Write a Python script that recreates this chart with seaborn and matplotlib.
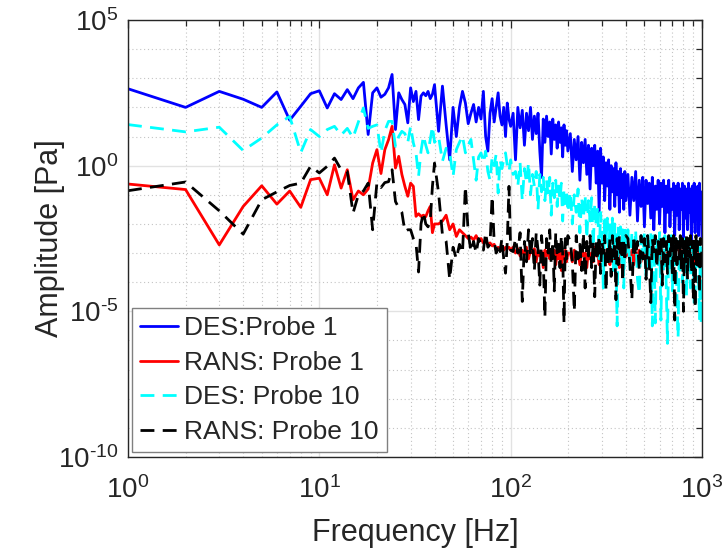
import numpy as np
import pandas as pd
import matplotlib
matplotlib.use("Agg")
import matplotlib.pyplot as plt
import seaborn as sns
from matplotlib.ticker import FixedLocator, NullFormatter, FuncFormatter

# ---- data: frequency grid [Hz] and log10 amplitudes [Pa] ----
freq_hz = (list(range(1, 41)) + list(range(42, 101, 2)) + list(range(103, 200, 3))
           + list(range(205, 401, 5)) + list(range(410, 1001, 10)))

series_labels = ["DES:Probe 1", "RANS: Probe 1", "DES: Probe 10", "RANS: Probe 10"]

des_p1_log = [
    2.64, 2.00, 2.55, 2.28, 2.00, 2.53, 1.56, 2.04, 2.47, 2.57,
    1.98, 2.47, 2.27, 2.61, 2.30, 2.67, 2.86, 1.07, 2.50, 2.67,
    2.35, 2.45, 2.67, 3.13, 1.24, 2.50, 2.27, 2.10, 1.47, 2.67,
    2.20, 2.55, 1.58, 2.39, 2.50, 2.40, 2.55, 2.30, 2.45, 2.78,
    1.18, 2.73, 1.40, 0.20, 2.00, 1.00, 2.00, 2.55, 2.15, 1.44,
    1.80, 2.10, 1.50, 2.00, 1.60, 2.55, 1.00, 0.50, 1.80, 2.30,
    1.50, 2.00, 2.50, 1.70, 1.40, 2.00, 1.00, 2.15, 1.60, 1.35,
    1.80, 0.20, 2.00, 1.30, 1.90, 0.70, 1.80, 1.20, 2.00, 0.90,
    1.70, 1.10, 1.80, 0.50, -0.40, 1.60, 0.80, 1.70, 1.00, 1.50,
    0.40, 1.60, 0.90, 1.40, 0.60, 1.50, 0.80, 1.30, 0.30, 1.40,
    0.70, 1.20, 0.50,
    1.10, -0.20, 0.90, 0.20, 1.00, -0.50, 0.80, 0.10, 0.90, -0.30,
    0.70, -0.80, 0.60, 0.00, 0.70, -0.60, 0.50, -1.60, 0.60, -0.60,
    0.30, -1.20, 0.10, -0.70, 0.20, -1.50, 0.00, -0.90, -0.10, -1.40,
    0.10, -1.00, -0.20, -1.60, -0.10, -1.10, -0.30, -1.50, -0.20, -1.20,
    -0.30, -1.70, -0.40, -1.20, -0.20, -1.90, -0.50, -1.40, -0.40, -2.10,
    -0.50, -1.30, -0.60, -1.80, -0.40, -2.20, -0.70, -1.50, -0.50, -2.00,
    -0.60, -1.40, -0.50, -2.30, -0.70, -1.60, -0.50, -2.10, -0.80, -1.50,
    -0.60, -2.40, -0.70, -1.70, -0.60, -2.20, -0.80, -1.50, -0.60, -2.50,
    -0.70, -1.80, -0.80, -2.20, -0.60, -1.60, -0.80, -2.60, -0.70, -1.90,
    -0.60, -2.30, -0.80, -1.70, -0.70, -2.40, -0.60, -1.80, -0.90, -2.60,
]

rans_p1_log = [
    -0.63, -0.82, -2.72, -1.40, -0.69, -1.32, -0.87, -1.43, -0.48, -0.43,
    -1.00, 0.03, -0.77, -0.14, -1.17, -0.87, -1.00, -0.80, 0.09, 0.55,
    -0.27, 0.55, 0.89, 1.35, -0.08, 0.32, -0.30, -0.71, -1.05, -0.60,
    -0.71, -1.74, -1.65, -1.74, -1.70, -1.75, -1.55, -1.40, -2.30, -2.00,
    -2.00, -1.90, -1.70, -2.20, -2.00, -2.43, -2.20, -2.30, -2.40, -2.50,
    -2.45, -2.55, -2.40, -2.60, -2.50, -2.65, -2.60, -2.70, -2.65, -2.75,
    -2.70, -2.89, -2.80, -2.85, -2.75, -2.90, -2.80, -2.85, -2.80, -2.90,
    -2.80, -3.00, -2.85, -3.10, -2.90, -3.05, -2.80, -3.20, -2.90, -3.00,
    -2.85, -3.30, -2.90, -3.10, -2.95, -3.50, -2.90, -3.10, -2.90, -3.20,
    -3.00, -3.10, -2.90, -3.40, -3.00, -3.20, -2.95, -3.60, -3.00, -3.20,
    -2.90, -3.30, -3.00,
    -3.00, -3.30, -2.90, -3.20, -3.00, -3.40, -2.90, -3.10, -3.00, -3.50,
    -2.90, -3.20, -3.00, -3.30, -2.80, -3.10, -3.00, -3.40, -2.90, -3.20,
    -3.00, -3.30, -2.90, -3.10, -3.00, -3.40, -2.90, -3.20, -3.00, -3.30,
    -2.90, -3.10, -3.00, -3.50, -2.90, -3.20, -3.00, -3.30, -2.90, -3.10,
    -3.00, -3.20, -2.90, -3.40, -3.00, -3.10, -2.90, -3.30, -3.00, -3.20,
    -2.90, -3.50, -3.00, -3.10, -2.90, -3.30, -3.00, -3.20, -2.90, -3.40,
    -3.00, -3.10, -2.90, -3.30, -3.00, -3.20, -2.90, -3.50, -3.00, -3.10,
    -2.90, -3.30, -3.00, -3.20, -2.90, -3.40, -3.00, -3.10, -2.90, -3.30,
    -3.00, -3.20, -2.90, -3.50, -3.00, -3.10, -2.90, -3.30, -3.00, -3.20,
    -2.90, -3.40, -3.00, -3.10, -2.90, -3.30, -3.00, -3.20, -2.90, -3.10,
]

des_p10_log = [
    1.41, 1.16, 1.32, 0.52, 0.95, 1.40, 1.69, 0.45, 1.24, 1.00,
    1.24, 1.35, 1.05, 1.28, 0.96, 1.50, 1.98, 1.28, 1.35, 1.40,
    0.44, 1.20, 1.52, 1.52, 0.66, 1.00, 1.18, 1.10, 0.80, 1.35,
    0.78, 0.44, -0.37, 0.50, 1.02, 0.70, 0.44, 0.90, 1.35, 0.80,
    1.00, 0.15, 0.60, 0.44, -0.37, 0.55, 0.80, 1.02, 0.44, 0.70,
    0.90, 0.20, -0.50, 0.30, 0.44, 0.10, 0.50, -0.20, -0.50, 0.30,
    0.00, 0.40, -0.94, 0.20, -0.10, 0.20, 0.44, 0.00, -0.20, 0.20,
    -0.30, -0.20, -0.70, 0.10, -1.20, -0.10, -0.60, 0.10, -1.00, -0.30,
    -0.70, -0.20, -1.50, -0.30, -0.90, -0.40, -1.20, -0.50, -1.00, -0.40,
    -1.70, -0.60, -1.10, -0.50, -1.40, -0.70, -1.20, -0.60, -1.90, -0.80,
    -1.30, -0.90, -1.60,
    -0.90, -2.00, -1.00, -1.60, -0.80, -2.30, -1.10, -1.80, -1.00, -2.50,
    -1.20, -1.90, -1.10, -2.80, -1.30, -2.10, -1.40, -3.20, -1.60, -2.40,
    -4.20, -1.70, -2.60, -1.80, -3.30, -1.90, -2.70, -1.80, -3.60, -2.00,
    -2.80, -5.50, -2.00, -3.00, -2.10, -3.40, -2.20, -4.20, -2.10, -3.00,
    -2.20, -3.60, -2.30, -3.10, -2.20, -3.90, -4.40, -2.40, -3.20, -2.30,
    -3.80, -2.40, -3.30, -2.30, -5.50, -2.40, -5.40, -2.50, -3.40, -2.30,
    -5.30, -2.50, -3.60, -2.40, -4.10, -6.10, -2.50, -3.50, -2.40, -4.30,
    -2.60, -3.40, -2.50, -4.60, -5.90, -2.60, -3.70, -2.50, -4.00, -2.60,
    -3.30, -2.50, -4.50, -2.70, -3.50, -2.60, -4.20, -2.70, -3.60, -2.60,
    -4.80, -4.40, -2.70, -3.40, -2.60, -4.00, -5.30, -2.80, -5.40, -3.20,
]

rans_p10_log = [
    -0.86, -0.56, -1.55, -2.35, -1.17, -0.90, -0.68, -0.60, -0.02, -0.25,
    -0.02, 0.26, -0.14, -0.20, -1.63, -1.00, -0.87, -0.60, -2.20, -0.58,
    -0.75, -0.58, -0.55, -0.14, -1.23, -1.45, -1.60, -2.26, -2.20, -2.20,
    -2.50, -2.66, -3.65, -2.00, -1.60, -2.00, -2.10, -1.90, -0.71, 0.09,
    -0.94, -2.37, -2.60, -3.90, -2.80, -3.20, -2.70, -3.00, -0.71, -2.30,
    -2.95, -2.60, -3.00, -2.50, -2.70, -2.90, -2.30, -2.80, -2.70, -1.05,
    -2.60, -3.00, -2.70, -2.95, -2.50, -3.20, -3.69, -2.60, -0.71, -2.90,
    -2.95, -2.50, -3.00, -2.30, -4.66, -2.60, -3.30, -2.20, -3.10, -2.50,
    -3.60, -2.30, -2.90, -4.10, -2.40, -3.20, -5.20, -2.50, -3.00, -2.20,
    -3.40, -2.60, -4.30, -2.30, -3.10, -2.70, -3.50, -2.40, -3.00, -5.40,
    -2.50, -3.20, -2.40,
    -2.60, -3.30, -5.00, -2.40, -3.20, -2.70, -3.60, -2.30, -4.20, -2.60,
    -3.10, -2.40, -3.50, -2.60, -4.50, -2.50, -3.20, -2.40, -3.70, -2.60,
    -3.00, -2.40, -4.30, -2.70, -3.30, -2.50, -3.80, -2.40, -3.10, -2.60,
    -4.60, -2.50, -3.40, -2.40, -3.00, -2.60, -4.00, -2.50, -3.30, -2.40,
    -2.50, -3.40, -4.60, -2.40, -3.10, -2.60, -3.60, -2.40, -3.20, -2.50,
    -3.90, -2.40, -3.30, -4.70, -2.50, -3.00, -2.40, -3.50, -2.60, -3.20,
    -2.40, -4.10, -2.50, -3.30, -2.60, -3.70, -2.40, -3.10, -2.50, -3.80,
    -2.40, -5.30, -2.50, -3.40, -2.60, -3.20, -2.40, -3.60, -2.50, -5.00,
    -2.60, -3.30, -2.40, -3.90, -2.50, -3.10, -2.40, -3.70, -2.60, -4.60,
    -2.50, -4.90, -2.40, -3.40, -2.60, -3.20, -4.40, -2.50, -3.60, -2.60,
]

series_colors = ["#0000ff", "#ff0000", "#00ffff", "#000000"]

# ---- styling ----
sns.set_theme(style="white")
plt.rcParams["font.family"] = ["Liberation Sans", "DejaVu Sans"]
plt.rcParams["mathtext.fontset"] = "custom"
plt.rcParams["mathtext.rm"] = "Liberation Sans"
plt.rcParams["mathtext.it"] = "Liberation Sans:italic"
plt.rcParams["mathtext.bf"] = "Liberation Sans:bold"
plt.rcParams["axes.unicode_minus"] = False

fig = plt.figure(figsize=(7.28, 5.6), dpi=100)
ax = fig.add_axes([0.1758, 0.1839, 0.7885, 0.7804])
ax.set_xscale("log")
ax.set_yscale("log")

all_logs = [des_p1_log, rans_p1_log, des_p10_log, rans_p10_log]
styles = ["-", "-", (0, (5, 3)), (0, (5, 3))]
for lab, logs, col, ls in zip(series_labels, all_logs, series_colors, styles):
    df = pd.DataFrame({"freq": freq_hz, "amp": 10.0 ** np.asarray(logs)})
    sns.lineplot(data=df, x="freq", y="amp", ax=ax, color=col, lw=2.0,
                 linestyle=ls, label=lab, estimator=None, sort=False)

ax.set_xlim(1, 1000)
ax.set_ylim(1e-10, 1e5)


def pow10_label(v, pos):
    e = int(round(np.log10(v)))
    if e < 0:
        return r"$\mathregular{10^{\text{-}%d}}$" % abs(e)
    return r"$\mathregular{10^{%d}}$" % e


ax.xaxis.set_major_locator(FixedLocator([1, 10, 100, 1000]))
ax.xaxis.set_minor_locator(FixedLocator([m * 10 ** d for d in range(0, 3) for m in range(2, 10)]))
ax.yaxis.set_major_locator(FixedLocator([1e-10, 1e-5, 1e0, 1e5]))
ax.yaxis.set_minor_locator(FixedLocator([10.0 ** e for e in range(-10, 6) if e % 5 != 0]))
ax.xaxis.set_major_formatter(FuncFormatter(pow10_label))
ax.yaxis.set_major_formatter(FuncFormatter(pow10_label))
ax.xaxis.set_minor_formatter(NullFormatter())
ax.yaxis.set_minor_formatter(NullFormatter())

ax.set_axisbelow(True)
ax.grid(True, which="major", color="#e2e2e2", lw=1.0, ls="-")
ax.grid(True, which="minor", color="#c4c4c4", lw=0.8, ls=(0, (1, 2.5)))

ax.tick_params(which="both", direction="in", top=True, right=True,
               color="#262626", width=0.9)
ax.tick_params(which="major", length=6, labelsize=20, labelcolor="#262626")
ax.tick_params(axis="x", which="major", pad=14)
ax.tick_params(axis="y", which="major", pad=7)
ax.tick_params(which="minor", length=4)
for sp in ax.spines.values():
    sp.set_color("#262626")
    sp.set_linewidth(1.0)

ax.set_xlabel("Frequency [Hz]", fontsize=22, color="#262626", labelpad=10)
ax.set_ylabel("Amplitude [Pa]", fontsize=22, color="#262626")
ax.yaxis.set_label_coords(-0.109, 0.5)

leg = ax.legend(loc="lower left", bbox_to_anchor=(0.0064, 0.012), borderaxespad=0,
                fontsize=19, frameon=True, fancybox=False, edgecolor="#808080",
                framealpha=1, facecolor="white", handlelength=1.45, handletextpad=0.25,
                borderpad=0.3, labelspacing=0.4)
leg.get_frame().set_linewidth(1.0)

fig.savefig("out.png", dpi=100)
